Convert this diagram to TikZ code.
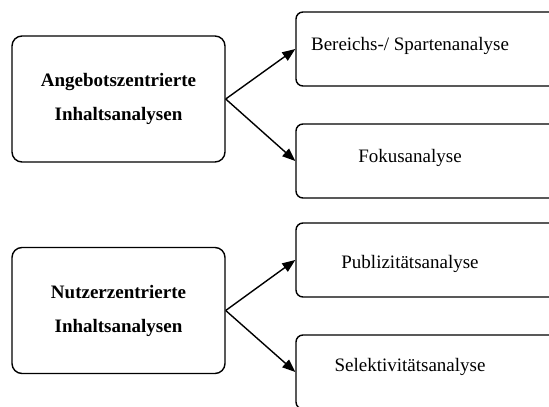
\documentclass[tikz,border=0pt]{standalone}
\usepackage{fontspec}
\setmainfont{Liberation Serif}
\usepackage{tikz}
\usetikzlibrary{arrows.meta}
\usetikzlibrary{positioning}
\tikzstyle{mainbox} = [rectangle, draw, line width=1.4pt, rounded corners=10pt, minimum width=213pt, minimum height=126pt, align=center, font=\bfseries\fontsize{19}{34}\selectfont]
\tikzstyle{subbox} = [rectangle, draw, line width=1.4pt, rounded corners=7pt, minimum width=300pt, minimum height=74pt]
\tikzstyle{subtext} = [font=\fontsize{19}{22}\selectfont, inner sep=0pt]
\tikzstyle{flow} = [line width=1.4pt, -{Triangle[length=13pt, width=10pt]}]

\begin{document}
\begin{tikzpicture}[x=1pt, y=-1pt]
		\useasboundingbox (0,0) rectangle (549,407);
		% upper group
		\node [mainbox] (angebot) at (118.5,99) {Angebotszentrierte\\Inhaltsanalysen};
		\node [subbox] (bereich) at (446,49) {};
		\node [subbox] (fokus) at (446,161) {};
		\node [subtext] (bereichtxt) at (410,46) {Bereichs-/ Spartenanalyse};
		\node [subtext] (fokustxt) at (410,158) {Fokusanalyse};
		\draw [flow] (angebot.east) -- (bereich.west);
		\draw [flow] (angebot.east) -- (fokus.west);
		% lower group
		\node [mainbox] (nutzer) at (118.5,310.5) {Nutzerzentrierte\\Inhaltsanalysen};
		\node [subbox] (publiz) at (446,260) {};
		\node [subbox] (selekt) at (446,372) {};
		\node [subtext] (publiztxt) at (410,264) {Publizitätsanalyse};
		\node [subtext] (selekttxt) at (410,367) {Selektivitätsanalyse};
		\draw [flow] (nutzer.east) -- (publiz.west);
		\draw [flow] (nutzer.east) -- (selekt.west);
	\end{tikzpicture}
\end{document}
